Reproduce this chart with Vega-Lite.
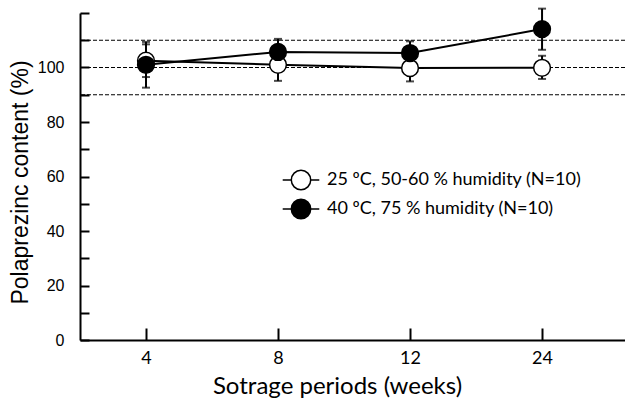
{
  "$schema": "https://vega.github.io/schema/vega-lite/v6.json",
  "width": 545,
  "height": 327,
  "autosize": "none",
  "padding": {"left": 80, "top": 13, "right": 0, "bottom": 62},
  "background": "white",
  "config": {"view": {"stroke": null}, "font": "Liberation Sans"},
  "datasets": {
    "stab": [
      {"week": 4, "condition": "25 ºC, 50-60 % humidity (N=10)", "mean": 102.5, "lo": 96.5, "hi": 108.5},
      {"week": 8, "condition": "25 ºC, 50-60 % humidity (N=10)", "mean": 101.0, "lo": 95.1, "hi": 106.9},
      {"week": 12, "condition": "25 ºC, 50-60 % humidity (N=10)", "mean": 99.8, "lo": 94.9, "hi": 104.7},
      {"week": 24, "condition": "25 ºC, 50-60 % humidity (N=10)", "mean": 99.9, "lo": 95.8, "hi": 104.3},
      {"week": 4, "condition": "40 ºC, 75 % humidity (N=10)", "mean": 101.0, "lo": 92.6, "hi": 109.4},
      {"week": 8, "condition": "40 ºC, 75 % humidity (N=10)", "mean": 105.7, "lo": 100.9, "hi": 110.5},
      {"week": 12, "condition": "40 ºC, 75 % humidity (N=10)", "mean": 105.3, "lo": 101.0, "hi": 109.6},
      {"week": 24, "condition": "40 ºC, 75 % humidity (N=10)", "mean": 114.1, "lo": 106.5, "hi": 121.6}
    ],
    "refs": [{"level": 90}, {"level": 100}, {"level": 110}]
  },
  "layer": [
    {
      "data": {"name": "refs"},
      "mark": {"type": "rule", "color": "black", "strokeWidth": 1, "strokeDash": [4, 2]},
      "encoding": {
        "y": {
          "field": "level",
          "type": "quantitative",
          "scale": {"domain": [0, 120], "nice": false},
          "axis": {
            "title": "Polaprezinc content (%)",
            "titleFont": "Liberation Sans",
            "titleFontSize": 23,
            "titleFontWeight": "normal",
            "titleColor": "black",
            "titlePadding": 5,
            "titleY": 169,
            "values": [0, 10, 20, 30, 40, 50, 60, 70, 80, 90, 100, 110, 120],
            "labelExpr": "(datum.value % 20 == 0 && datum.value <= 100) ? datum.label : ''",
            "labelFont": "Liberation Sans",
            "labelFontSize": 16,
            "labelColor": "black",
            "labelPadding": 25,
            "domainColor": "black",
            "domainWidth": 2,
            "tickColor": "black",
            "tickWidth": 2,
            "tickSize": -9,
            "grid": false
          }
        }
      }
    },
    {
      "data": {"name": "stab"},
      "encoding": {
        "x": {
          "field": "week",
          "type": "ordinal",
          "sort": [4, 8, 12, 24],
          "scale": {"type": "point", "padding": 0.564, "align": 0.443},
          "axis": {
            "title": "Sotrage periods (weeks)",
            "titleFont": "Lato",
            "titleFontSize": 24,
            "titleFontWeight": "normal",
            "titleColor": "black",
            "titlePadding": 7,
            "titleX": 257,
            "labelFont": "Lato",
            "labelFontSize": 18,
            "labelColor": "black",
            "labelAngle": 0,
            "labelPadding": 21,
            "domainColor": "black",
            "domainWidth": 2,
            "tickColor": "black",
            "tickWidth": 2,
            "tickSize": -12,
            "grid": false
          }
        },
        "y": {
          "field": "mean",
          "type": "quantitative",
          "scale": {"domain": [0, 120], "nice": false},
          "axis": {
            "title": "Polaprezinc content (%)",
            "titleFont": "Liberation Sans",
            "titleFontSize": 23,
            "titleFontWeight": "normal",
            "titleColor": "black",
            "titlePadding": 5,
            "titleY": 169,
            "values": [0, 10, 20, 30, 40, 50, 60, 70, 80, 90, 100, 110, 120],
            "labelExpr": "(datum.value % 20 == 0 && datum.value <= 100) ? datum.label : ''",
            "labelFont": "Liberation Sans",
            "labelFontSize": 16,
            "labelColor": "black",
            "labelPadding": 25,
            "domainColor": "black",
            "domainWidth": 2,
            "tickColor": "black",
            "tickWidth": 2,
            "tickSize": -9,
            "grid": false
          }
        }
      },
      "layer": [
        {
          "mark": {"type": "line", "color": "black", "strokeWidth": 2},
          "encoding": {
            "detail": {"field": "condition"}
          }
        },
        {
          "mark": {"type": "rule", "color": "black", "strokeWidth": 2},
          "encoding": {
            "y": {"field": "lo", "type": "quantitative"},
            "y2": {"field": "hi"}
          }
        },
        {
          "mark": {"type": "tick", "color": "black", "size": 8, "thickness": 2, "orient": "horizontal"},
          "encoding": {
            "y": {"field": "hi", "type": "quantitative"}
          }
        },
        {
          "mark": {"type": "tick", "color": "black", "size": 8, "thickness": 2, "orient": "horizontal"},
          "encoding": {
            "y": {"field": "lo", "type": "quantitative"}
          }
        },
        {
          "mark": {"type": "point", "shape": "circle", "filled": true, "size": 280, "stroke": "black", "strokeWidth": 1.5, "opacity": 1},
          "encoding": {
            "fill": {
              "field": "condition",
              "type": "nominal",
              "scale": {"domain": ["25 ºC, 50-60 % humidity (N=10)", "40 ºC, 75 % humidity (N=10)"], "range": ["white", "black"]},
              "legend": {
                "orient": "none",
                "legendX": 210,
                "legendY": 156,
                "title": null,
                "padding": 0,
                "symbolType": "M-1.83,0H-0.97 M0.97,0H1.83 M-0.97,0A0.97,0.97 0 1,0 0.97,0A0.97,0.97 0 1,0 -0.97,0Z",
                "symbolSize": 400,
                "symbolStrokeColor": "black",
                "symbolStrokeWidth": 1.5,
                "symbolOpacity": 1,
                "labelFont": "Lato",
                "labelFontSize": 18,
                "labelColor": "black",
                "labelOffset": 15,
                "rowPadding": 3,
                "labelLimit": 400
              }
            }
          }
        }
      ]
    }
  ]
}
